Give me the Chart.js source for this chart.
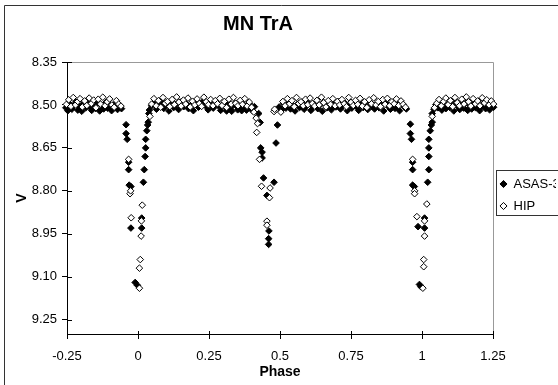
<!DOCTYPE html>
<html><head><meta charset="utf-8">
<script src="https://cdn.jsdelivr.net/npm/chart.js@4.4.1/dist/chart.umd.min.js"></script>
<style>html,body{margin:0;padding:0;background:#fff;overflow:hidden}#wrap{position:relative;width:558px;height:385px}</style>
</head><body><div id="wrap"><canvas id="c" width="558" height="385"></canvas></div>
<script>
const chartTitle = 'MN TrA';
const xTitle = 'Phase';
const yTitle = 'V';
const seriesNames = ['ASAS-3', 'HIP'];
const xTicks = [-0.25, 0, 0.25, 0.5, 0.75, 1, 1.25];
const yTicks = [8.35, 8.50, 8.65, 8.80, 8.95, 9.10, 9.25];
const xRange = [-0.25, 1.25];
const yRange = [8.35, 9.30];

const asasPhase = [
 -0.254,-0.247,-0.240,-0.233,-0.226,-0.219,-0.212,-0.205,-0.198,-0.191,-0.184,-0.177,-0.170,-0.163,-0.156,-0.149,-0.142,-0.135,-0.128,-0.121,-0.114,-0.107,-0.100,-0.093,-0.086,-0.079,-0.072,-0.065,-0.058,
 -0.042,-0.042,-0.038,-0.033,-0.033,-0.031,-0.025,-0.025,-0.010,-0.002,0.013,0.013,0.019,0.022,0.025,0.027,0.027,0.031,0.034,0.036,0.038,
 0.040,0.048,0.057,0.065,0.074,0.083,0.091,0.100,0.109,0.117,0.126,0.135,0.143,0.152,0.161,0.169,0.178,0.187,0.195,0.204,0.213,0.221,0.230,0.239,0.247,0.256,0.265,0.273,0.282,0.291,0.299,0.308,0.312,0.317,0.325,0.330,0.334,0.343,0.348,0.351,0.360,0.365,0.369,0.377,0.382,0.386,0.392,0.395,0.403,0.410,
 0.425,0.430,0.432,0.437,0.437,0.442,0.454,0.461,0.460,0.460,0.479,0.486,0.491,
 0.497,0.505,0.513,0.521,0.529,0.537,0.545,0.553,0.561,0.569,0.577,0.585,0.593,0.601,0.609,0.617,0.625,0.633,0.641,0.649,0.657,0.665,0.673,0.681,0.689,0.697,0.705,0.713,0.721,0.729,0.737,0.745,0.753,0.761,0.769,0.777,0.785,0.793,0.801,0.809,0.817,0.825,0.833,0.841,0.849,0.857,0.865,0.873,0.881,0.889,0.897,0.905,0.913,0.921,0.929,0.937,0.945,
 0.959,0.959,0.963,0.967,0.967,0.967,0.973,0.986,1.009,1.009,0.991,0.996,1.020,1.024,1.024,1.024,1.024,1.029,1.033,1.036,1.036,
 1.042,1.049,1.056,1.063,1.070,1.077,1.084,1.091,1.098,1.105,1.112,1.119,1.126,1.133,1.140,1.147,1.154,1.161,1.168,1.175,1.182,1.189,1.196,1.203,1.210,1.217,1.224,1.231,1.238,1.245,1.252
];
const asasV = [
 8.510,8.520,8.497,8.515,8.503,8.490,8.518,8.505,8.522,8.495,8.510,8.488,8.507,8.519,8.498,8.512,8.493,8.521,8.502,8.514,8.492,8.511,8.499,8.520,8.506,8.494,8.516,8.501,8.513,
 8.569,8.600,8.620,8.700,8.726,8.780,8.785,8.930,9.120,9.130,8.930,8.895,8.770,8.726,8.680,8.650,8.620,8.590,8.570,8.560,8.530,
 8.518,8.503,8.494,8.515,8.500,8.490,8.512,8.498,8.521,8.493,8.509,8.497,8.516,8.489,8.506,8.495,8.513,8.500,8.520,8.492,8.508,8.497,8.487,8.504,8.517,8.495,8.511,8.491,8.502,8.519,8.497,8.507,8.521,8.492,8.514,8.522,8.501,8.494,8.505,8.517,8.503,8.520,8.496,8.512,8.518,8.499,8.495,8.509,8.520,8.506,
 8.530,8.561,8.650,8.665,8.685,8.755,8.816,8.940,8.967,8.987,8.770,8.633,8.570,
 8.507,8.518,8.496,8.511,8.492,8.514,8.501,8.521,8.498,8.509,8.490,8.515,8.504,8.495,8.519,8.506,8.497,8.513,8.500,8.522,8.493,8.510,8.502,8.517,8.496,8.507,8.489,8.514,8.503,8.494,8.520,8.499,8.511,8.492,8.506,8.519,8.497,8.509,8.501,8.516,8.491,8.506,8.514,8.496,8.510,8.500,8.521,8.493,8.505,8.515,8.497,8.512,8.499,8.520,8.495,8.506,8.514,
 8.567,8.600,8.620,8.700,8.726,8.780,8.785,8.925,8.930,8.895,9.127,9.135,8.770,8.726,8.680,8.650,8.620,8.590,8.570,8.560,8.530,
 8.515,8.499,8.510,8.492,8.518,8.503,8.513,8.495,8.509,8.500,8.521,8.490,8.506,8.516,8.498,8.511,8.493,8.519,8.502,8.514,8.496,8.510,8.499,8.520,8.506,8.494,8.513,8.502,8.517,8.498,8.508
];
const hipPhase = [
 -0.252,-0.244,-0.236,-0.228,-0.220,-0.212,-0.204,-0.196,-0.188,-0.180,-0.172,-0.164,-0.156,-0.148,-0.140,-0.132,-0.124,-0.116,-0.108,-0.100,-0.092,-0.084,-0.076,-0.068,-0.060,
 -0.033,-0.028,-0.026,-0.024,0.005,0.005,0.008,0.011,0.012,0.015,0.042,
 0.048,0.056,0.064,0.072,0.080,0.088,0.096,0.104,0.112,0.120,0.128,0.136,0.144,0.152,0.160,0.168,0.176,0.184,0.192,0.200,0.208,0.216,0.224,0.232,0.240,0.248,0.256,0.264,0.272,0.280,0.288,0.296,0.304,0.312,0.320,0.328,0.336,0.344,0.352,0.360,0.368,0.376,0.384,0.392,0.400,0.408,
 0.416,0.421,0.418,0.428,0.435,0.465,0.463,0.454,0.454,0.479,0.481,0.503,
 0.510,0.518,0.526,0.534,0.542,0.550,0.558,0.566,0.574,0.582,0.590,0.598,0.606,0.614,0.622,0.630,0.638,0.646,0.654,0.662,0.670,0.678,0.686,0.694,0.702,0.710,0.718,0.726,0.734,0.742,0.750,0.758,0.766,0.774,0.782,0.790,0.798,0.806,0.814,0.822,0.830,0.838,0.846,0.854,0.862,0.870,0.878,0.886,0.894,0.902,0.910,0.918,0.926,0.934,0.942,
 0.967,0.974,0.974,0.982,1.003,1.017,1.009,1.009,1.006,1.006,1.036,
 1.044,1.052,1.060,1.068,1.076,1.084,1.092,1.100,1.108,1.116,1.124,1.132,1.140,1.148,1.156,1.164,1.172,1.180,1.188,1.196,1.204,1.212,1.220,1.228,1.236,1.244,1.252
];
const hipV = [
 8.498,8.482,8.505,8.474,8.500,8.488,8.478,8.507,8.486,8.502,8.476,8.495,8.483,8.510,8.480,8.497,8.473,8.503,8.489,8.479,8.500,8.508,8.485,8.497,8.504,
 8.690,8.810,8.800,8.894,9.140,9.070,9.040,8.958,8.905,8.850,8.540,
 8.497,8.478,8.503,8.485,8.508,8.474,8.494,8.488,8.506,8.481,8.499,8.472,8.490,8.504,8.483,8.497,8.476,8.507,8.487,8.500,8.479,8.495,8.505,8.473,8.489,8.499,8.481,8.503,8.485,8.496,8.477,8.502,8.488,8.509,8.480,8.497,8.474,8.494,8.503,8.484,8.498,8.478,8.504,8.490,8.508,8.525,
 8.546,8.565,8.596,8.690,8.784,8.790,8.824,8.906,8.920,8.523,8.515,8.525,
 8.488,8.503,8.478,8.496,8.485,8.506,8.474,8.495,8.489,8.503,8.480,8.499,8.476,8.495,8.504,8.484,8.500,8.473,8.492,8.507,8.485,8.498,8.478,8.503,8.488,8.500,8.481,8.496,8.506,8.474,8.491,8.502,8.484,8.498,8.477,8.504,8.489,8.509,8.482,8.496,8.475,8.500,8.488,8.506,8.481,8.498,8.477,8.503,8.489,8.496,8.479,8.502,8.486,8.498,8.508,
 8.690,8.800,8.810,8.890,9.140,8.846,8.905,8.958,9.040,9.065,8.540,
 8.510,8.494,8.481,8.503,8.488,8.476,8.499,8.485,8.506,8.474,8.492,8.503,8.480,8.497,8.472,8.489,8.504,8.478,8.496,8.486,8.503,8.475,8.493,8.482,8.500,8.486,8.497
];

const toPoints = (xs, ys) => xs.map((x, i) => ({x: x, y: ys[i]}));
const FONT = "'Liberation Sans', Arial, sans-serif";
Chart.defaults.font.family = FONT;
Chart.defaults.color = '#000';

const LEG_SHIFT_Y = 3, LEG_SHIFT_X = 2;
const framePlugin = {
  id: 'frame',
  afterLayout(chart) {
    const lg = chart.legend;
    lg.top -= LEG_SHIFT_Y; lg.bottom -= LEG_SHIFT_Y;
    lg.left -= LEG_SHIFT_X; lg.right -= LEG_SHIFT_X;
    const tb = chart.titleBlock;
    if (tb) { tb.left = 0; tb.right = 516; }
  },
  beforeDraw(chart) {
    const ctx = chart.ctx;
    ctx.save();
    ctx.fillStyle = '#fff';
    ctx.fillRect(0, 0, chart.width, chart.height);
    ctx.strokeStyle = '#333';
    ctx.lineWidth = 1;
    ctx.beginPath();
    ctx.moveTo(4.5, chart.height); ctx.lineTo(4.5, 5.5); ctx.lineTo(chart.width, 5.5);
    ctx.stroke();
    ctx.restore();
  },
  beforeDatasetsDraw(chart) {
    const ctx = chart.ctx, a = chart.chartArea;
    ctx.save();
    ctx.strokeStyle = '#999';
    ctx.lineWidth = 1;
    ctx.beginPath();
    ctx.moveTo(a.left, a.top + 0.5); ctx.lineTo(Math.round(a.right) + 0.5, a.top + 0.5); ctx.lineTo(Math.round(a.right) + 0.5, a.bottom);
    ctx.stroke();
    ctx.strokeStyle = '#000';
    ctx.beginPath();
    const xs = chart.scales.x, ys = chart.scales.y;
    xs.ticks.forEach(t => { const p = Math.round(xs.getPixelForValue(t.value)) + 0.5; ctx.moveTo(p, a.bottom); ctx.lineTo(p, a.bottom - 3); });
    ys.ticks.forEach(t => { const p = Math.round(ys.getPixelForValue(t.value)) + 0.5; ctx.moveTo(a.left, p); ctx.lineTo(a.left + 5, p); });
    ctx.stroke();
    ctx.restore();
  },
  afterDraw(chart) {
    const lg = chart.legend, ctx = chart.ctx;
    const hb = lg.legendHitBoxes;
    if (!hb || !hb.length) return;
    const top = hb[0].top - LEG_SHIFT_Y - 5;
    const last = hb[hb.length - 1];
    const bottom = last.top - LEG_SHIFT_Y + last.height + 5;
    const left = Math.round(lg.left + 5) + 0.5;
    ctx.save();
    ctx.strokeStyle = '#333';
    ctx.lineWidth = 1;
    ctx.strokeRect(left, Math.round(top) + 0.5, 120, Math.round(bottom - top));
    ctx.restore();
  }
};

new Chart(document.getElementById('c'), {
  type: 'scatter',
  data: {
    datasets: [
      { label: seriesNames[0], data: toPoints(asasPhase, asasV), pointStyle: 'rectRot', pointRadius: 3.3, pointHoverRadius: 3.3,
        backgroundColor: '#000', borderColor: '#000', borderWidth: 1, order: 1, clip: false },
      { label: seriesNames[1], data: toPoints(hipPhase, hipV), pointStyle: 'rectRot', pointRadius: 3.3, pointHoverRadius: 3.3,
        backgroundColor: '#fff', borderColor: '#000', borderWidth: 1, order: 0, clip: false }
    ]
  },
  options: {
    responsive: false,
    animation: false,
    devicePixelRatio: 1,
    layout: { padding: { left: 0, right: 0, top: 0, bottom: 0 } },
    plugins: {
      title: { display: true, text: chartTitle, color: '#000', font: { size: 20, weight: 'bold', family: FONT }, padding: { top: 12, bottom: 26 } },
      legend: {
        display: true, position: 'right', align: 'center', fullSize: false, maxWidth: 65,
        labels: { usePointStyle: true, boxWidth: 7, boxHeight: 5, padding: 9, color: '#000', font: { size: 13, family: FONT },
          sort: (a, b) => a.datasetIndex - b.datasetIndex }
      },
      tooltip: { enabled: false }
    },
    scales: {
      x: {
        type: 'linear', position: 'bottom', min: xRange[0], max: xRange[1],
        afterBuildTicks: axis => { axis.ticks = xTicks.map(v => ({ value: v })); },
        afterFit: s => { s.height = 51; },
        ticks: { callback: v => String(v), color: '#000', font: { size: 13, family: FONT }, padding: 10, maxRotation: 0, autoSkip: false },
        grid: { drawOnChartArea: false, drawTicks: true, tickLength: 5, color: '#000' },
        border: { display: true, color: '#000', width: 1 },
        title: { display: true, text: xTitle, color: '#000', font: { size: 14, weight: 'bold', family: FONT }, padding: { top: 0, bottom: 4 } }
      },
      y: {
        type: 'linear', position: 'left', reverse: true, min: yRange[0], max: yRange[1],
        afterBuildTicks: axis => { axis.ticks = yTicks.map(v => ({ value: v })); },
        afterFit: s => { s.width = 67; },
        ticks: { callback: v => Number(v).toFixed(2), color: '#000', font: { size: 13, family: FONT }, padding: 5, autoSkip: false },
        grid: { drawOnChartArea: false, drawTicks: true, tickLength: 5, color: '#000' },
        border: { display: true, color: '#000', width: 1 },
        title: { display: true, text: yTitle, color: '#000', font: { size: 14, weight: 'bold', family: FONT }, padding: { top: 14, bottom: 0 } }
      }
    }
  },
  plugins: [framePlugin]
});
</script>
</body></html>
